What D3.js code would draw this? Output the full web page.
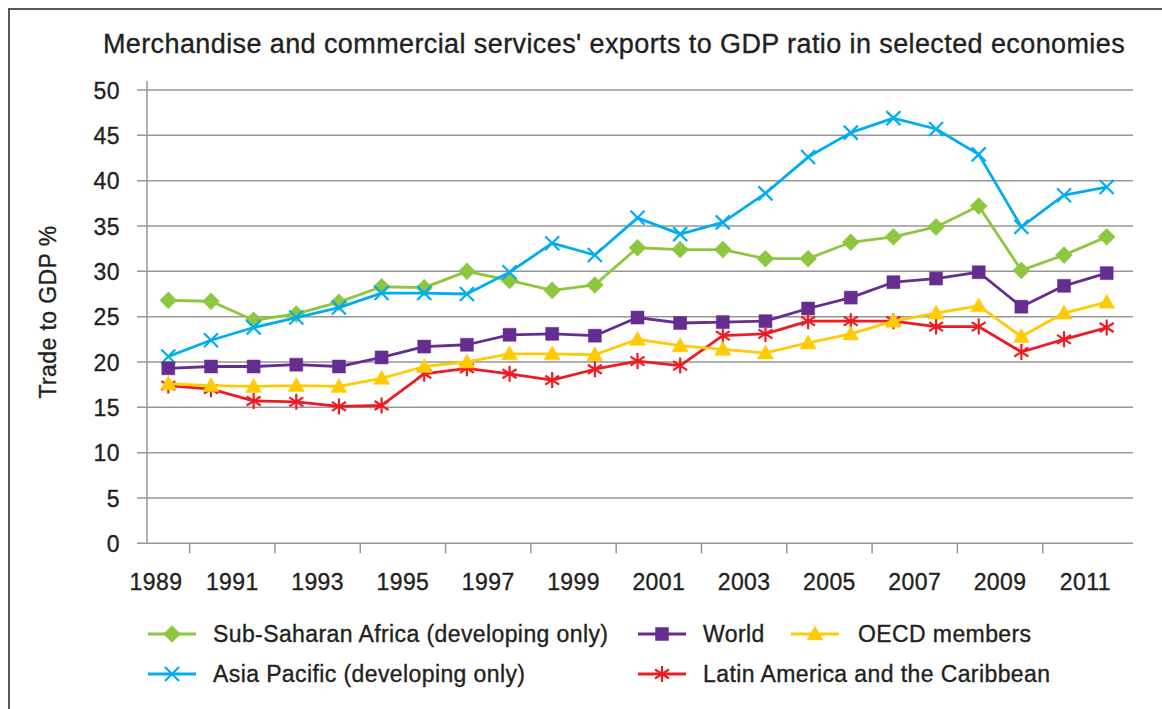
<!DOCTYPE html>
<html>
<head>
<meta charset="utf-8">
<script src="https://cdn.jsdelivr.net/npm/d3@7"></script>
<style>
  body { margin: 0; background: #fff; }
  svg text { font-family: "Liberation Sans", Arial, Helvetica, sans-serif; fill: #231f20;
             stroke: #231f20; stroke-width: 0.35px; letter-spacing: 0.4px; }
</style>
</head>
<body>
<svg id="chart" width="1162" height="709"></svg>
<script>
// values
const years = [1989, 1990, 1991, 1992, 1993, 1994, 1995, 1996, 1997, 1998, 1999, 2000,
               2001, 2002, 2003, 2004, 2005, 2006, 2007, 2008, 2009, 2010, 2011];
const yearLabels = [1989, 1991, 1993, 1995, 1997, 1999, 2001, 2003, 2005, 2007, 2009, 2011];
const yTicks = [0, 5, 10, 15, 20, 25, 30, 35, 40, 45, 50];

const subSaharan = [26.8, 26.7, 24.6, 25.3, 26.6, 28.3, 28.2, 30.0, 29.0, 27.9, 28.5, 32.6,
                    32.4, 32.4, 31.4, 31.4, 33.2, 33.8, 34.9, 37.2, 30.1, 31.8, 33.8];
const asiaPacific = [20.6, 22.4, 23.8, 24.9, 26.0, 27.6, 27.6, 27.5, 29.9, 33.1, 31.8, 35.9,
                     34.1, 35.4, 38.6, 42.6, 45.3, 46.9, 45.7, 42.9, 34.9, 38.4, 39.3];
const world = [19.3, 19.5, 19.5, 19.7, 19.5, 20.5, 21.7, 21.9, 23.0, 23.1, 22.9, 24.9,
               24.3, 24.4, 24.5, 25.9, 27.1, 28.8, 29.2, 29.9, 26.1, 28.4, 29.8];
const oecd = [17.6, 17.4, 17.3, 17.4, 17.3, 18.2, 19.5, 20.0, 20.9, 20.9, 20.8, 22.5,
              21.8, 21.4, 21.0, 22.1, 23.1, 24.5, 25.4, 26.2, 22.8, 25.4, 26.6];
const latinAmerica = [17.4, 17.0, 15.7, 15.6, 15.1, 15.2, 18.7, 19.3, 18.7, 18.0, 19.2, 20.1,
                      19.6, 22.9, 23.1, 24.5, 24.5, 24.5, 23.9, 23.9, 21.1, 22.5, 23.8];

const seriesNames = ["Sub-Saharan Africa (developing only)", "World", "OECD members",
                     "Asia Pacific (developing only)", "Latin America and the Caribbean"];

const series = [
  {name: seriesNames[0], values: subSaharan, color: "#8dc63f", marker: "diamond"},
  {name: seriesNames[3], values: asiaPacific, color: "#00aeef", marker: "x"},
  {name: seriesNames[1], values: world, color: "#662d91", marker: "square"},
  {name: seriesNames[4], values: latinAmerica, color: "#ed1c24", marker: "star"},
  {name: seriesNames[2], values: oecd, color: "#ffcb05", marker: "triangle"}
];

const svg = d3.select("#chart");
const plotLeft = 147, plotRight = 1128, plotTop = 90, plotBottom = 543.3;

// frame
svg.append("path")
  .attr("d", "M9,720 L9,9 L1170,9")
  .attr("fill", "none").attr("stroke", "#58595b").attr("stroke-width", 2);

const x = d3.scalePoint().domain(years).range([plotLeft, plotRight]).padding(0.5);
const step = x.step();
const y = d3.scaleLinear().domain([0, 50]).range([plotBottom, plotTop]);

// title
svg.append("text")
  .attr("x", 614).attr("y", 53)
  .attr("text-anchor", "middle")
  .style("font-size", "27px")
  .text("Merchandise and commercial services' exports to GDP ratio in selected economies");

// gridlines
svg.append("g").selectAll("line")
  .data(yTicks)
  .join("line")
  .attr("x1", plotLeft - 10).attr("x2", 1133)
  .attr("y1", d => y(d)).attr("y2", d => y(d))
  .attr("stroke", "#969696").attr("stroke-width", 1.5);

// y axis
const yAxis = svg.append("g")
  .attr("transform", `translate(${plotLeft},0)`)
  .call(d3.axisLeft(y).tickValues(yTicks).tickSize(10).tickPadding(17));
yAxis.select(".domain").remove();
yAxis.selectAll("line").remove();
yAxis.selectAll("text")
  .attr("fill", null)
  .style("font-size", "23px").attr("dy", "0.36em");

svg.append("line")
  .attr("x1", plotLeft).attr("x2", plotLeft)
  .attr("y1", plotTop - 9).attr("y2", plotBottom)
  .attr("stroke", "#969696").attr("stroke-width", 1.5);

// x axis ticks between every second pair of categories
const xTickYears = years.filter((d, i) => i % 2 === 1);
svg.append("g").selectAll("line")
  .data(xTickYears)
  .join("line")
  .attr("x1", d => x(d) - step / 2).attr("x2", d => x(d) - step / 2)
  .attr("y1", plotBottom).attr("y2", plotBottom + 10)
  .attr("stroke", "#969696").attr("stroke-width", 1.5);

svg.append("g").selectAll("text")
  .data(yearLabels)
  .join("text")
  .attr("x", d => Math.max(x(d) - step / 2, plotLeft + 9))
  .attr("y", 590)
  .attr("text-anchor", "middle")
  .style("font-size", "23px")
  .text(d => d);

// y axis title
svg.append("text")
  .attr("transform", "translate(56,312) rotate(-90)")
  .attr("text-anchor", "middle")
  .style("font-size", "23px")
  .text("Trade to GDP %");

// markers
function markerPath(type) {
  if (type === "diamond") return "M0,-8.5L8.5,0L0,8.5L-8.5,0Z";
  if (type === "square") return "M-6.5,-6.5H6.5V6.5H-6.5Z";
  if (type === "triangle") return "M0,-8L8,6H-8Z";
  if (type === "x") return "M-7,-7L7,7M-7,7L7,-7";
  if (type === "star") return "M0,-8V8M-7,-4.5L7,4.5M-7,4.5L7,-4.5";
}
function drawMarker(g, s) {
  const filled = s.marker === "diamond" || s.marker === "square" || s.marker === "triangle";
  g.append("path")
    .attr("d", markerPath(s.marker))
    .attr("fill", filled ? s.color : "none")
    .attr("stroke", s.color)
    .attr("stroke-width", filled ? 0.5 : 2.2);
}

const line = d3.line()
  .x((d, i) => x(years[i]))
  .y(d => y(d));

series.forEach(s => {
  const g = svg.append("g");
  g.append("path")
    .datum(s.values)
    .attr("d", line)
    .attr("fill", "none")
    .attr("stroke", s.color)
    .attr("stroke-width", 2.8)
    .attr("stroke-linejoin", "round");
  g.selectAll("g.pt")
    .data(s.values)
    .join("g")
    .attr("class", "pt")
    .attr("transform", (d, i) => `translate(${x(years[i])},${y(d)})`)
    .each(function() { drawMarker(d3.select(this), s); });
});

// legend
const legendItems = [
  {s: series[0], lx: 148, ly: 634},
  {s: series[2], lx: 638, ly: 634},
  {s: series[4], lx: 791, ly: 634},
  {s: series[1], lx: 148, ly: 674},
  {s: series[3], lx: 638, ly: 674}
];
const legend = svg.append("g");
legendItems.forEach(it => {
  const g = legend.append("g").attr("transform", `translate(${it.lx},${it.ly})`);
  g.append("line")
    .attr("x1", 0).attr("x2", 48)
    .attr("stroke", it.s.color).attr("stroke-width", 2.8);
  const m = g.append("g").attr("transform", "translate(24,0)");
  drawMarker(m, it.s);
  g.append("text")
    .attr("x", it.lx === 791 ? 67 : 65)
    .attr("y", 8)
    .style("font-size", "23px")
    .text(it.s.name);
});
</script>
</body>
</html>
